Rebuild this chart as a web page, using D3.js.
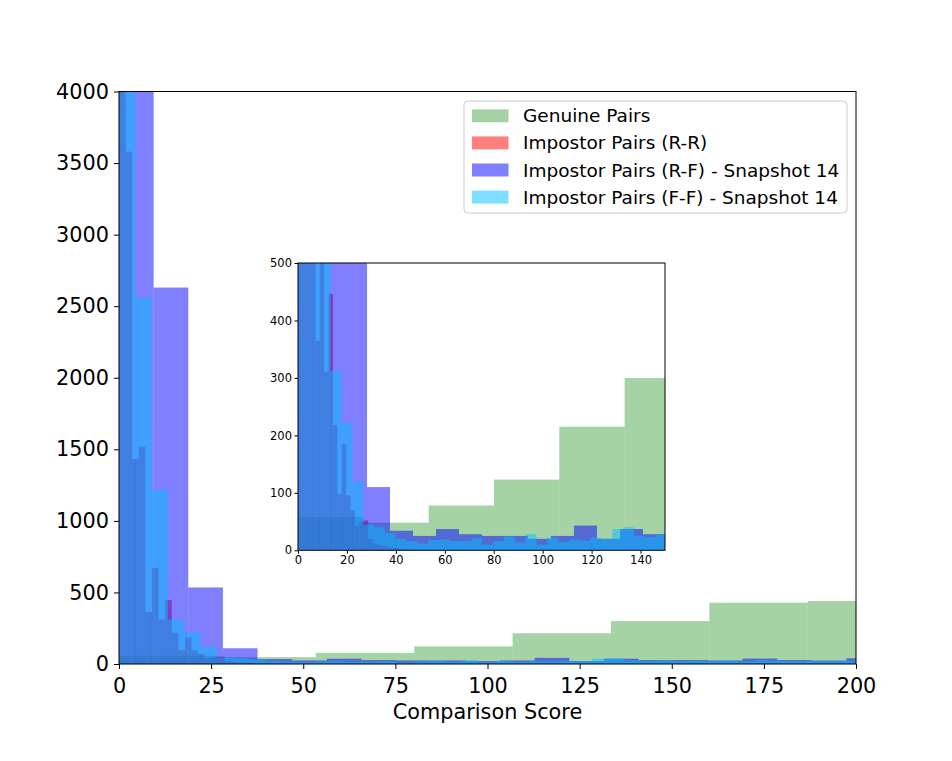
<!DOCTYPE html>
<html>
<head>
<meta charset="utf-8">
<script src="https://cdn.jsdelivr.net/npm/d3@7"></script>
<style>
    body { margin: 0; background: #fff; }
    svg { font-family: "DejaVu Sans", sans-serif; }
    .axis path, .axis line { stroke: #000; }
</style>
</head>
<body>
<svg id="chart" width="952" height="761"></svg>
<script>
//
// score histograms, main axes plus a zoomed inset
//

// bin widths of each histogram (bins start at 0)
const genuineBinWidth = 26.7;
const rrBinWidth = 1.79;
const rfBinWidth = 9.4;
const ffBinWidth = 4.43;

// counts per bin
const genuineCounts = [58, 48, 78, 123, 215, 300, 428, 440];
const rrCounts = [6000, 3580, 1432, 1518, 364, 672, 311, 446, 218, 98, 185, 96, 70, 42, 50, 52,
                  20, 12, 10, 8, 6, 5, 4, 3, 2, 2, 1];
const rfCounts = [6500, 2630, 535, 110, 34, 25, 37, 28, 25, 25, 20, 25, 43, 20, 37, 28,
                  28, 25, 38, 28, 24, 40];
const ffCounts = [5000, 2560, 1216, 312, 222, 120, 45, 40, 30, 20, 16, 12, 18,
                  19, 16, 16, 21, 10, 16, 24, 14, 28, 10, 22, 14.5, 19, 17, 22, 20, 37, 40, 25, 23, 27,
                  22, 25, 20, 24, 18, 26, 22, 20, 24, 19, 22, 25];

const seriesNames = ['Genuine Pairs', 'Impostor Pairs (R-R)',
                     'Impostor Pairs (R-F) - Snapshot 14', 'Impostor Pairs (F-F) - Snapshot 14'];

// axis ticks
const mainXTicks = [0, 25, 50, 75, 100, 125, 150, 175, 200];
const mainYTicks = [0, 500, 1000, 1500, 2000, 2500, 3000, 3500, 4000];
const insetXTicks = [0, 20, 40, 60, 80, 100, 120, 140];
const insetYTicks = [0, 100, 200, 300, 400, 500];

const xLabel = 'Comparison Score';

const colors = ['rgba(0,128,0,0.35)', 'rgba(255,0,0,0.5)', 'rgba(0,0,255,0.5)', 'rgba(0,191,255,0.5)'];

function toBins(counts, width) {
    return counts.map((c, i) => ({x0: i * width, x1: (i + 1) * width, value: c}));
}

const series = [
    toBins(genuineCounts, genuineBinWidth),
    toBins(rrCounts, rrBinWidth),
    toBins(rfCounts, rfBinWidth),
    toBins(ffCounts, ffBinWidth)
];

const svg = d3.select('#chart');

// draw one set of axes with its histograms
function drawAxes(id, box, xDomain, yDomain, xTicks, yTicks, fontSize, tickLen, xPad, yPad) {
    const xScale = d3.scaleLinear().domain(xDomain).range([box.left, box.right]);
    const yScale = d3.scaleLinear().domain(yDomain).range([box.bottom, box.top]);

    svg.append('rect')
        .attr('x', box.left).attr('y', box.top)
        .attr('width', box.right - box.left).attr('height', box.bottom - box.top)
        .attr('fill', '#fff');

    svg.append('clipPath').attr('id', id)
        .append('rect')
        .attr('x', box.left).attr('y', box.top)
        .attr('width', box.right - box.left).attr('height', box.bottom - box.top);

    const plot = svg.append('g').attr('clip-path', `url(#${id})`);

    series.forEach((bins, i) => {
        plot.append('g')
            .selectAll('rect')
            .data(bins.filter((b) => b.value > 0))
            .enter()
            .append('rect')
            .attr('x', (b) => xScale(b.x0))
            .attr('width', (b) => xScale(b.x1) - xScale(b.x0))
            .attr('y', (b) => yScale(b.value))
            .attr('height', (b) => yScale(0) - yScale(b.value))
            .attr('fill', colors[i]);
    });

    // frame
    svg.append('rect')
        .attr('x', box.left).attr('y', box.top)
        .attr('width', box.right - box.left).attr('height', box.bottom - box.top)
        .attr('fill', 'none').attr('stroke', '#000').attr('stroke-width', 1);

    const gx = svg.append('g')
        .attr('class', 'axis')
        .attr('transform', `translate(0, ${box.bottom})`)
        .call(d3.axisBottom(xScale).tickValues(xTicks).tickFormat(d3.format('d'))
            .tickSize(tickLen).tickSizeOuter(0).tickPadding(xPad));
    gx.select('.domain').remove();
    gx.selectAll('text').attr('font-size', fontSize).attr('fill', '#000').attr('font-family', 'DejaVu Sans');

    const gy = svg.append('g')
        .attr('class', 'axis')
        .attr('transform', `translate(${box.left}, 0)`)
        .call(d3.axisLeft(yScale).tickValues(yTicks).tickFormat(d3.format('d'))
            .tickSize(tickLen).tickSizeOuter(0).tickPadding(yPad));
    gy.select('.domain').remove();
    gy.selectAll('text').attr('font-size', fontSize).attr('fill', '#000').attr('font-family', 'DejaVu Sans');

    return {xScale, yScale};
}

const mainBox = {left: 119, right: 856, top: 91.5, bottom: 664};
drawAxes('clip-main', mainBox, [0, 200], [0, 4000], mainXTicks, mainYTicks, 20.8, 5, 9, 5);

svg.append('text')
    .attr('x', (mainBox.left + mainBox.right) / 2)
    .attr('y', 719)
    .attr('text-anchor', 'middle')
    .attr('font-size', 20.8)
    .text(xLabel);

// legend
const legend = svg.append('g');
legend.append('rect')
    .attr('x', 464).attr('y', 101).attr('width', 383).attr('height', 112).attr('rx', 4)
    .attr('fill', 'rgba(255,255,255,0.8)').attr('stroke', '#cccccc');
seriesNames.forEach((name, i) => {
    const cy = 115.8 + i * 27.1;
    legend.append('rect')
        .attr('x', 472).attr('y', cy - 6.5).attr('width', 36.5).attr('height', 13)
        .attr('fill', colors[i]);
    legend.append('text')
        .attr('x', 523).attr('y', cy + 6.5)
        .attr('font-size', 18.5)
        .text(name);
});

// inset
const insetBox = {left: 298, right: 665, top: 263, bottom: 550.3};
drawAxes('clip-inset', insetBox, [0, 150], [0, 500], insetXTicks, insetYTicks, 11.5, 3.5, 2.5, 2.5);
</script>
</body>
</html>
